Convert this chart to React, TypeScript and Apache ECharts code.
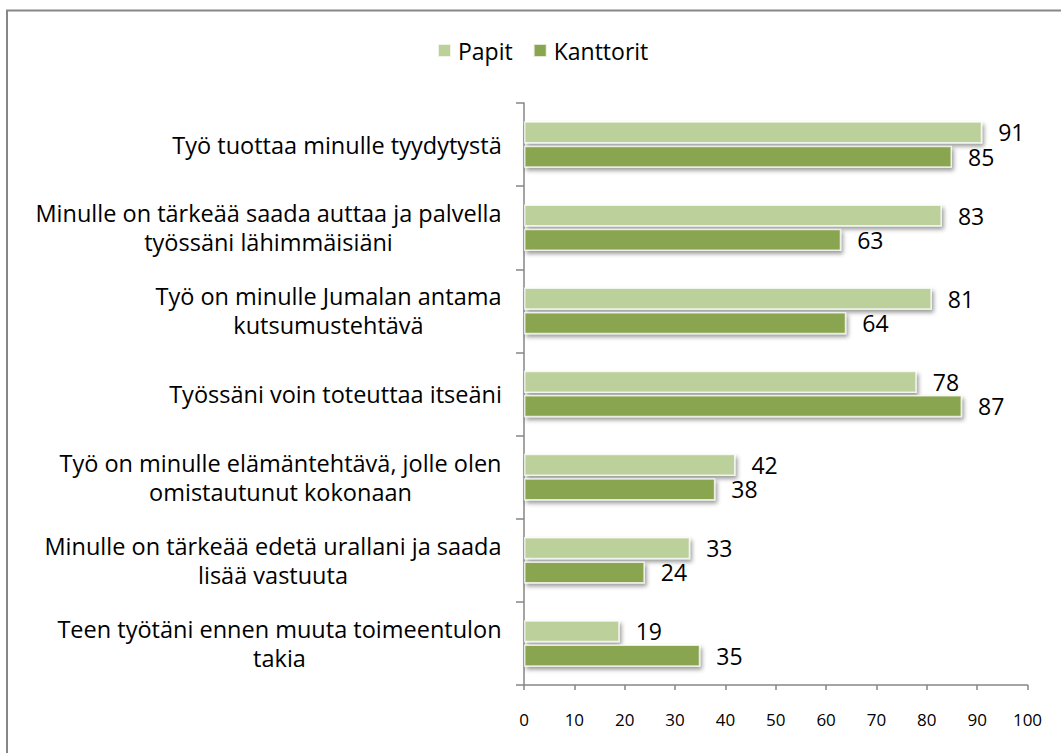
import React, { useEffect, useRef } from "react";
import * as echarts from "echarts";

const categories: string[] = [
  "Työ tuottaa minulle tyydytystä",
  "Minulle on tärkeää saada auttaa ja palvella\ntyössäni lähimmäisiäni",
  "Työ on minulle Jumalan antama\nkutsumustehtävä",
  "Työssäni voin toteuttaa itseäni",
  "Työ on minulle elämäntehtävä, jolle olen\nomistautunut kokonaan",
  "Minulle on tärkeää edetä urallani ja saada\nlisää vastuuta",
  "Teen työtäni ennen muuta toimeentulon\ntakia",
];
const papit: number[] = [91, 83, 81, 78, 42, 33, 19];
const kanttorit: number[] = [85, 63, 64, 87, 38, 24, 35];
const seriesNames: string[] = ["Papit", "Kanttorit"];
const xTicks = { min: 0, max: 100, interval: 10 };

const FONT = "Open Sans";
const CAT_FS = 23.5;
const VAL_FS = 23;

export default function App() {
  const ref = useRef<HTMLDivElement>(null);
  useEffect(() => {
    document.body.style.margin = "0";
    if (!ref.current) return;
    const chart = echarts.init(ref.current, undefined, { renderer: "svg" });

    const canvas = document.createElement("canvas");
    const ctx = canvas.getContext("2d")!;
    ctx.font = `${CAT_FS}px "${FONT}"`;
    const rich: Record<string, any> = {};
    categories.forEach((c, i) => {
      const w = Math.max(...c.split("\n").map((l) => ctx.measureText(l).width));
      rich["r" + i] = {
        width: Math.ceil(w) + 2,
        align: "center",
        fontSize: CAT_FS,
        fontFamily: FONT,
        color: "#000",
        lineHeight: 29,
      };
    });

    const barStyle = (color: string) => ({
      color,
      borderColor: "rgba(255,255,255,0.75)",
      borderWidth: 1.5,
      shadowColor: "rgba(0,0,0,0.4)",
      shadowBlur: 4,
      shadowOffsetX: 2,
      shadowOffsetY: 3,
    });
    const label = {
      show: true,
      position: "right",
      distance: 16,
      fontSize: VAL_FS,
      fontFamily: FONT,
      color: "#000",
    };

    chart.setOption({
      animation: false,
      graphic: [
        {
          type: "rect",
          shape: { x: 7, y: 10.5, width: 1100, height: 800 },
          style: { fill: "none", stroke: "#878787", lineWidth: 2 },
          silent: true,
          z: -10,
        },
      ],
      legend: {
        data: seriesNames,
        left: 432,
        top: 34,
        icon: "rect",
        itemWidth: 13,
        itemHeight: 13,
        itemGap: 20,
        textStyle: { fontSize: 23, fontFamily: FONT, color: "#000", padding: [0, 0, 0, 2] },
      },
      grid: { left: 524, right: 33.5, top: 103, bottom: 68, containLabel: false },
      xAxis: {
        type: "value",
        min: xTicks.min,
        max: xTicks.max,
        interval: xTicks.interval,
        splitLine: { show: false },
        axisLine: { show: true, lineStyle: { color: "#868686", width: 1.5 } },
        axisTick: { show: true, length: 5, lineStyle: { color: "#868686", width: 1.5 } },
        axisLabel: { fontSize: 17, fontFamily: FONT, color: "#000", margin: 26 },
      },
      yAxis: {
        type: "category",
        inverse: true,
        data: categories,
        axisLine: { show: true, lineStyle: { color: "#868686", width: 1.5 } },
        axisTick: { show: true, length: 8, lineStyle: { color: "#868686", width: 1.5 } },
        axisLabel: {
          margin: 21,
          align: "right",
          formatter: (v: string, i: number) =>
            v
              .split("\n")
              .map((l) => `{r${i}|${l}}`)
              .join("\n"),
          rich,
        },
      },
      series: [
        {
          name: seriesNames[0],
          type: "bar",
          data: papit,
          barCategoryGap: "44%",
          barGap: "10%",
          itemStyle: barStyle("#bbd09a"),
          label,
        },
        {
          name: seriesNames[1],
          type: "bar",
          data: kanttorit,
          barCategoryGap: "44%",
          barGap: "10%",
          itemStyle: barStyle("#8aa54f"),
          label,
        },
      ],
    });
    return () => chart.dispose();
  }, []);
  return <div ref={ref} style={{ width: 1061, height: 753 }} />;
}
